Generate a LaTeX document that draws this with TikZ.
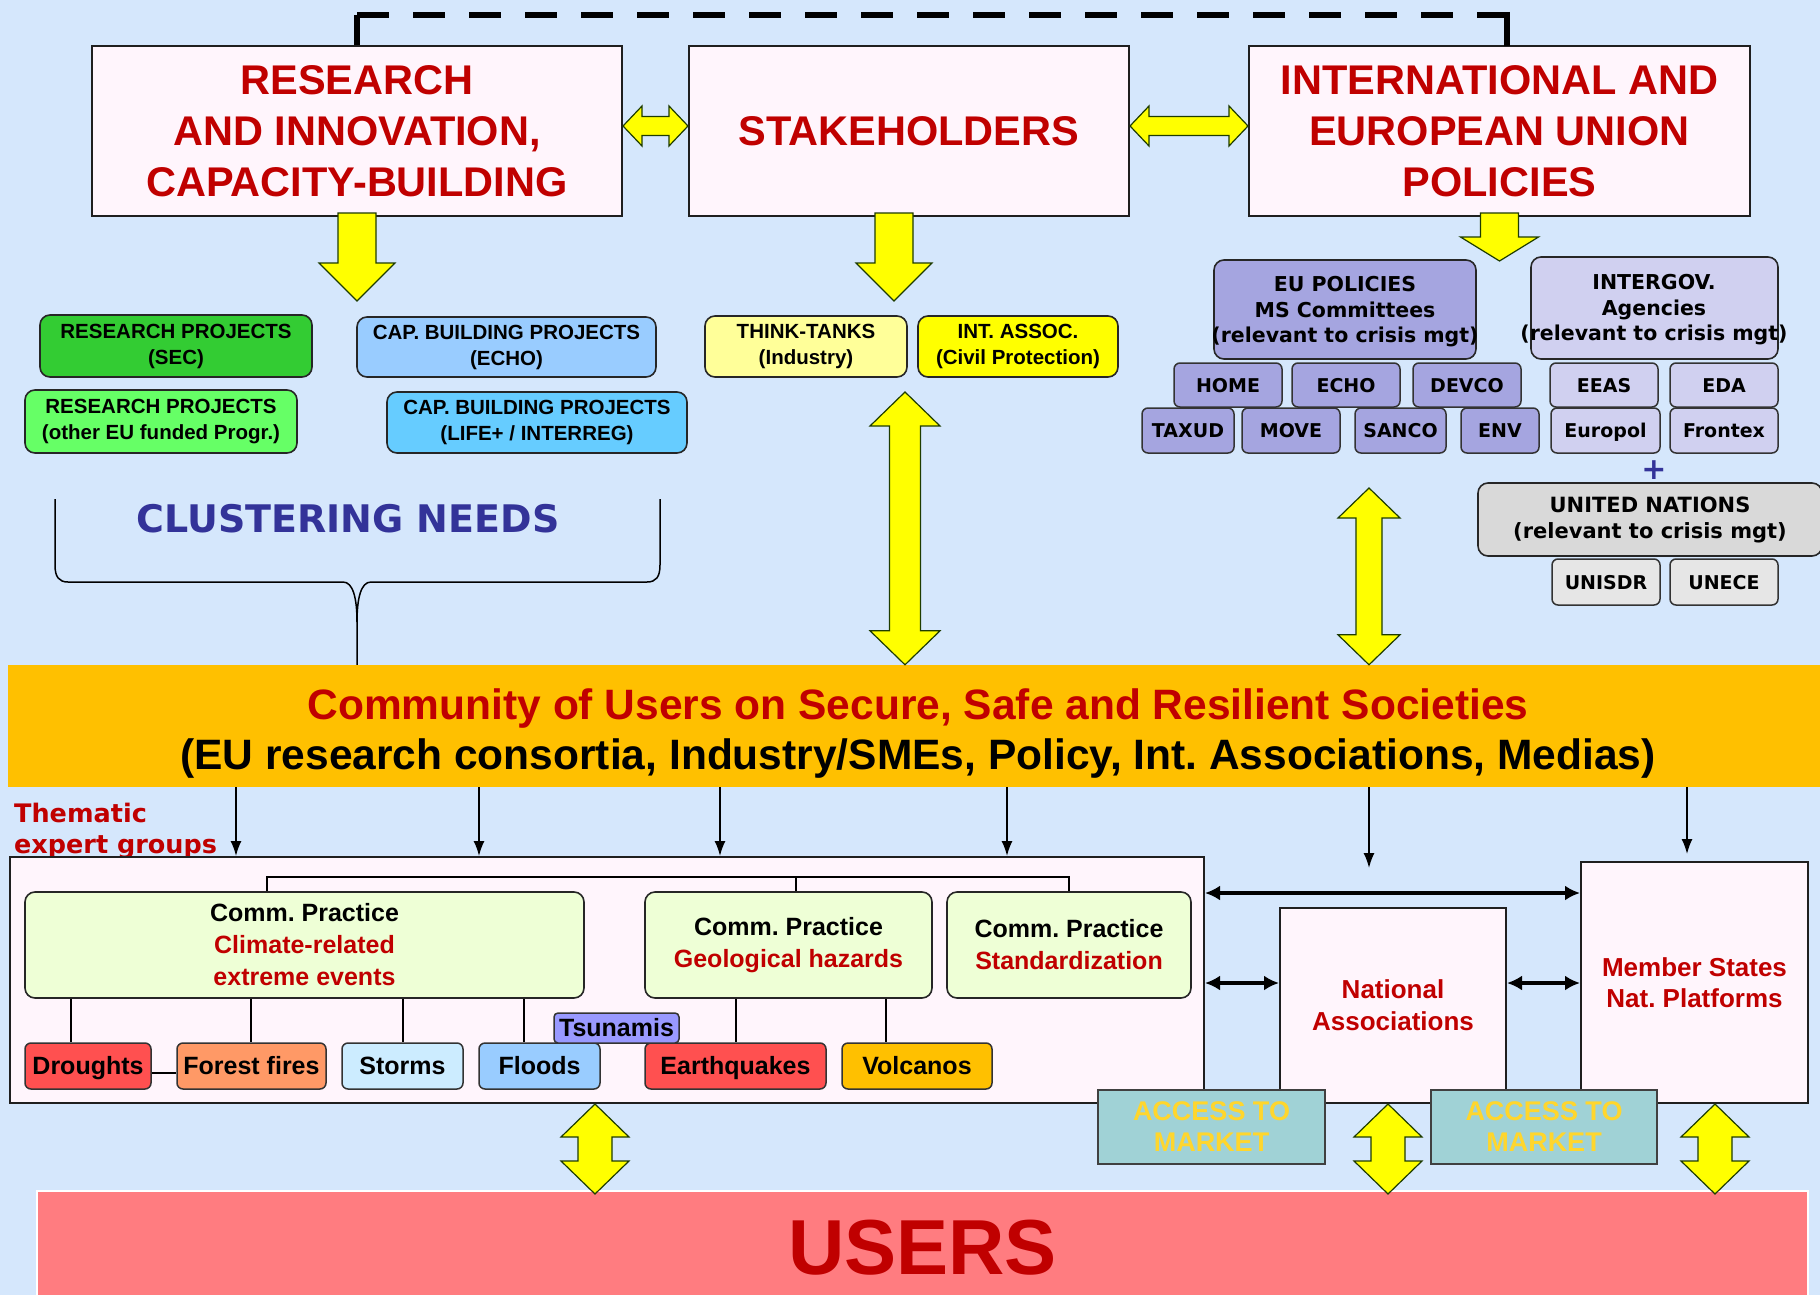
\documentclass[tikz,border=0pt]{standalone}
\usepackage{fontspec}
\setmainfont{Liberation Sans}
\newfontfamily\verd{DejaVu Sans}
\usetikzlibrary{arrows.meta,calc}
\frenchspacing
\definecolor{bg}{RGB}{213,231,252}
\definecolor{pinkw}{RGB}{255,245,252}
\definecolor{dred}{RGB}{192,0,0}
\definecolor{agreen}{RGB}{30,60,0}
\definecolor{gsec}{RGB}{51,204,51}
\definecolor{gother}{RGB}{102,255,102}
\definecolor{becho}{RGB}{153,204,255}
\definecolor{blife}{RGB}{102,204,255}
\definecolor{ythink}{RGB}{255,255,153}
\definecolor{yassoc}{RGB}{255,255,0}
\definecolor{lav}{RGB}{165,165,224}
\definecolor{lavl}{RGB}{208,208,240}
\definecolor{ungray}{RGB}{217,217,217}
\definecolor{ungrayl}{RGB}{230,230,230}
\definecolor{orangeb}{RGB}{255,192,0}
\definecolor{cpgreen}{RGB}{238,255,214}
\definecolor{redb}{RGB}{255,80,80}
\definecolor{forestc}{RGB}{255,153,102}
\definecolor{stormc}{RGB}{204,236,255}
\definecolor{floodc}{RGB}{153,204,255}
\definecolor{tsuc}{RGB}{153,153,255}
\definecolor{accessc}{RGB}{160,210,214}
\definecolor{goldc}{RGB}{255,214,45}
\definecolor{usersc}{RGB}{255,124,128}
\definecolor{dblue}{RGB}{51,51,153}
\newcommand{\fz}[2]{\fontsize{#1}{#2}\selectfont}
% yellow block arrows
\newcommand{\hdbl}[5]{\draw[yarrow] let \p1=#1, \p2=#2 in (\x1,\y1) -- (\x1+#5,\y1+#4) -- (\x1+#5,\y1+#3) -- (\x2-#5,\y1+#3) -- (\x2-#5,\y1+#4) -- (\x2,\y1) -- (\x2-#5,\y1-#4) -- (\x2-#5,\y1-#3) -- (\x1+#5,\y1-#3) -- (\x1+#5,\y1-#4) -- cycle;}
\newcommand{\vdbl}[5]{\draw[yarrow] let \p1=#1, \p2=#2 in (\x1,\y1) -- (\x1+#4,\y1-#5) -- (\x1+#3,\y1-#5) -- (\x1+#3,\y2+#5) -- (\x1+#4,\y2+#5) -- (\x1,\y2) -- (\x1-#4,\y2+#5) -- (\x1-#3,\y2+#5) -- (\x1-#3,\y1-#5) -- (\x1-#4,\y1-#5) -- cycle;}
\newcommand{\vdown}[5]{\draw[yarrow] let \p1=#1, \p2=#2 in (\x1-#3,\y1) -- (\x1+#3,\y1) -- (\x1+#3,\y2+#5) -- (\x1+#4,\y2+#5) -- (\x1,\y2) -- (\x1-#4,\y2+#5) -- (\x1-#3,\y2+#5) -- cycle;}
\begin{document}
\begin{tikzpicture}[x=1pt,y=-1pt,
  bigbox/.style={draw=black!88, line width=2pt, fill=pinkw, inner sep=0pt, align=center},
  rbox/.style={draw=black!85, line width=1.6pt, rounded corners=10pt, inner sep=0pt, align=center},
  tagbox/.style={draw=black!80, line width=1.5pt, rounded corners=6pt, inner sep=0pt, align=center},
  yarrow/.style={draw=agreen, line width=1.2pt, fill=yassoc},
  conn/.style={draw=black, line width=1.6pt},
  sarrow/.style={draw=black, line width=1.6pt, -{Latex[length=15pt,width=11pt]}},
  harrow/.style={draw=black, line width=3.5pt, {Latex[length=15pt,width=15pt]}-{Latex[length=15pt,width=15pt]}},
  topfont/.style={font=\fz{41.5}{51}\bfseries, text=dred},
  projfont/.style={font=\fz{20.5}{26}\bfseries, text=black},
  vfont/.style={font=\verd\fz{20.5}{25.5}\bfseries, text=black},
  tagfont/.style={font=\verd\fz{19}{23}\bfseries, text=black, text height=14pt, text depth=0pt},
  cpfont/.style={font=\fz{25}{32}\bfseries, text=black},
  hzfont/.style={font=\fz{25}{30}\bfseries, text=black, text height=19pt, text depth=3pt}
]
\useasboundingbox (0,0) rectangle (1820,1295);
\fill[bg] (0,0) rectangle (1820,1295);

% ---------- top boxes ----------
\node[bigbox, minimum width=530, minimum height=170, topfont] (research) at (357,131) {RESEARCH\\AND INNOVATION,\\CAPACITY-BUILDING};
\node[bigbox, minimum width=440, minimum height=170, topfont] (stake) at (909,131) {STAKEHOLDERS};
\node[bigbox, minimum width=501, minimum height=170, topfont] (intl) at (1499.5,131) {INTERNATIONAL AND\\EUROPEAN UNION\\POLICIES};

% dashed link
\draw[line width=6pt] (research.north -| 357,0) -- (357,15);
\draw[line width=6pt, dash pattern=on 32pt off 24pt] (357,15) -- (1507,15);
\draw[line width=6pt] (1507,12) -- (1507,46);

% ---------- project boxes ----------
\node[rbox, fill=gsec, minimum width=272, minimum height=62, projfont] (rpsec) at (176,346) {RESEARCH PROJECTS\\(SEC)};
\node[rbox, fill=becho, minimum width=299, minimum height=60, projfont] (cbecho) at (506.5,347) {CAP. BUILDING PROJECTS\\(ECHO)};
\node[rbox, fill=gother, minimum width=272, minimum height=63, projfont] (rpother) at (161,421.5) {RESEARCH PROJECTS\\(other EU funded Progr.)};
\node[rbox, fill=blife, minimum width=300, minimum height=61, projfont] (cblife) at (537,422.5) {CAP. BUILDING PROJECTS\\(LIFE+ / INTERREG)};

\node[rbox, fill=ythink, minimum width=202, minimum height=61, projfont] (think) at (806,346.5) {THINK-TANKS\\(Industry)};
\node[rbox, fill=yassoc, minimum width=200, minimum height=61, projfont] (intassoc) at (1018,346.5) {INT. ASSOC.\\(Civil Protection)};

% clustering needs
\node[anchor=base, font=\verd\fz{38}{44}\bfseries, text=dblue] (clust) at (348,532) {CLUSTERING NEEDS};
\draw[line width=1.5pt] (55,499) -- (55,565) .. controls (55,577) and (59,582) .. (68,582) -- (343,582) .. controls (353,582) and (357,598) .. (357,622) -- (357,665);
\draw[line width=1.5pt] (660,499) -- (660,565) .. controls (660,577) and (656,582) .. (647,582) -- (371,582) .. controls (361,582) and (357,598) .. (357,622);

% ---------- policies ----------
\node[rbox, fill=lav, minimum width=262, minimum height=99] (eupol) at (1345,309.5) {};
\node[vfont, align=center] (eupolt) at (1345,312) {EU POLICIES\\MS Committees\\(relevant to crisis mgt)};
\node[rbox, fill=lavl, minimum width=247, minimum height=102] (intergov) at (1654.5,308) {};
\node[vfont, align=center] (intergovt) at (1654,310) {INTERGOV.\\Agencies\\(relevant to crisis mgt)};

\node[tagbox, fill=lav, minimum width=108, minimum height=44, tagfont] (home) at (1228,385) {HOME};
\node[tagbox, fill=lav, minimum width=108, minimum height=44, tagfont] (echo2) at (1346,385) {ECHO};
\node[tagbox, fill=lav, minimum width=108, minimum height=44, tagfont] (devco) at (1467,385) {DEVCO};
\node[tagbox, fill=lav, minimum width=92, minimum height=45, tagfont] (taxud) at (1188,430.5) {TAXUD};
\node[tagbox, fill=lav, minimum width=98, minimum height=45, tagfont] (move) at (1291,430.5) {MOVE};
\node[tagbox, fill=lav, minimum width=91, minimum height=45, tagfont] (sanco) at (1400.5,430.5) {SANCO};
\node[tagbox, fill=lav, minimum width=78, minimum height=45, tagfont] (env) at (1500,430.5) {ENV};
\node[tagbox, fill=lavl, minimum width=108, minimum height=44, tagfont] (eeas) at (1604,385) {EEAS};
\node[tagbox, fill=lavl, minimum width=108, minimum height=44, tagfont] (eda) at (1724,385) {EDA};
\node[tagbox, fill=lavl, minimum width=109, minimum height=45, tagfont] (europol) at (1605.5,430.5) {Europol};
\node[tagbox, fill=lavl, minimum width=108, minimum height=45, tagfont] (frontex) at (1724,430.5) {Frontex};
\node[font=\verd\fz{30}{30}\bfseries, text=dblue, inner sep=0pt] (plus) at (1654,470) {+};
\node[rbox, fill=ungray, minimum width=344, minimum height=73, font=\verd\fz{21}{26}\bfseries] (un) at (1650,519.5) {UNITED NATIONS\\(relevant to crisis mgt)};
\node[tagbox, fill=ungrayl, minimum width=108, minimum height=46, tagfont] (unisdr) at (1606,582) {UNISDR};
\node[tagbox, fill=ungrayl, minimum width=108, minimum height=46, tagfont] (unece) at (1724,582) {UNECE};

% ---------- community band ----------
\node[fill=orangeb, minimum width=1820, minimum height=122, inner sep=0pt] (band) at (918,726) {};
\node[align=center, font=\fz{42.5}{50}\bfseries, inner sep=0pt] (bandtext) at (918,734) {\textcolor{dred}{Community of Users on Secure, Safe and Resilient Societies}\\(EU research consortia, Industry/SMEs, Policy, Int. Associations, Medias)};

% ---------- thematic area ----------
\node[anchor=base west, align=left, font=\verd\fz{25.5}{31}\bfseries, text=dred, inner sep=0pt] (thematic-label) at (14,853) {Thematic\\expert groups};
\node[bigbox, minimum width=1194, minimum height=246] (thematic) at (607,980) {};
\node[bigbox, minimum width=226, minimum height=195, font=\fz{26}{32}\bfseries, text=dred] (natassoc) at (1393,1005.5) {National\\Associations};
\node[bigbox, minimum width=227, minimum height=241, font=\fz{26}{31}\bfseries, text=dred] (ms) at (1694.5,982.5) {Member States\\Nat. Platforms};

\node[rbox, fill=cpgreen, minimum width=559, minimum height=106, cpfont] (climate) at (304.5,945) {Comm. Practice\\\textcolor{dred}{Climate-related}\\\textcolor{dred}{extreme events}};
\node[rbox, fill=cpgreen, minimum width=287, minimum height=106, cpfont] (geo) at (788.5,945) {Comm. Practice\\\textcolor{dred}{Geological hazards}};
\node[rbox, fill=cpgreen, minimum width=244, minimum height=106, cpfont] (standard) at (1069,945) {Comm. Practice\\\textcolor{dred}{Standardization}};

\node[tagbox, fill=redb, minimum width=126, minimum height=46, hzfont] (droughts) at (88,1066) {Droughts};
\node[tagbox, fill=forestc, minimum width=149, minimum height=46, hzfont] (forest) at (251.5,1066) {Forest fires};
\node[tagbox, fill=stormc, minimum width=121, minimum height=46, hzfont] (storms) at (402.5,1066) {Storms};
\node[tagbox, fill=floodc, minimum width=121, minimum height=46, hzfont] (floods) at (539.5,1066) {Floods};
\node[tagbox, fill=redb, minimum width=181, minimum height=46, hzfont] (earth) at (735.5,1066) {Earthquakes};
\node[tagbox, fill=orangeb, minimum width=150, minimum height=46, hzfont] (volcanos) at (917,1066) {Volcanos};
\node[tagbox, rounded corners=4pt, fill=tsuc, minimum width=125, minimum height=30, font=\fz{25}{30}\bfseries, text height=18pt, text depth=1pt] (tsunamis) at (616.5,1028) {Tsunamis};

% bracket above communities of practice
\coordinate (b1) at (267,877);
\coordinate (b2) at (796,877);
\coordinate (b3) at (1069,877);
\draw[conn, line width=2pt] (b1 |- climate.north) -- (b1) -- (b3) -- (b3 |- standard.north);
\draw[conn, line width=2pt] (b2) -- (b2 |- geo.north);

% links to hazards
\coordinate (c1) at (71,0);
\coordinate (c2) at (251,0);
\coordinate (c3) at (403,0);
\coordinate (c4) at (524,0);
\coordinate (c5) at (736,0);
\coordinate (c6) at (886,0);
\draw[conn] (c1 |- climate.south) -- (c1 |- droughts.north);
\draw[conn] (c2 |- climate.south) -- (c2 |- forest.north);
\draw[conn] (c3 |- climate.south) -- (c3 |- storms.north);
\draw[conn] (c4 |- climate.south) -- (c4 |- floods.north);
\draw[conn] (c5 |- geo.south) -- (c5 |- earth.north);
\draw[conn] (c6 |- geo.south) -- (c6 |- volcanos.north);
\coordinate (dy) at (0,1073);
\draw[conn] (droughts.east |- dy) -- (forest.west |- dy);

% arrows from band
\coordinate (t1) at (236,0);
\coordinate (t2) at (479,0);
\coordinate (t3) at (720,0);
\coordinate (t4) at (1007,0);
\coordinate (na) at (1369,868);
\coordinate (ma) at (1687,854);
\draw[sarrow] (t1 |- band.south) -- (t1 |- thematic.north);
\draw[sarrow] (t2 |- band.south) -- (t2 |- thematic.north);
\draw[sarrow] (t3 |- band.south) -- (t3 |- thematic.north);
\draw[sarrow] (t4 |- band.south) -- (t4 |- thematic.north);
\draw[sarrow] (na |- band.south) -- (na);
\draw[sarrow] (ma |- band.south) -- (ma);

% horizontal black double arrows
\coordinate (hy1) at (0,893);
\coordinate (hy2) at (0,983);
\draw[harrow] (thematic.east |- hy1) -- (ms.west |- hy1);
\draw[harrow] (thematic.east |- hy2) -- (natassoc.west |- hy2);
\draw[harrow] (natassoc.east |- hy2) -- (ms.west |- hy2);

% access to market
\node[draw=black!75, line width=2pt, fill=accessc, minimum width=227, minimum height=74, inner sep=0pt, align=center, font=\fz{27}{31}\bfseries, text=goldc] (access1) at (1211.5,1127) {ACCESS TO\\MARKET};
\node[draw=black!75, line width=2pt, fill=accessc, minimum width=226, minimum height=74, inner sep=0pt, align=center, font=\fz{27}{31}\bfseries, text=goldc] (access2) at (1544,1127) {ACCESS TO\\MARKET};

% users
\node[draw=white, line width=1.5pt, fill=usersc, minimum width=1771, minimum height=114, inner sep=0pt, font=\fz{78}{80}\bfseries, text=dred] (users) at (922.5,1248) {USERS};

% ---------- yellow block arrows ----------
\hdbl{([yshift=5pt]research.east)}{([yshift=5pt]stake.west)}{9.5pt}{20pt}{19pt}
\hdbl{([yshift=5pt]stake.east)}{([yshift=5pt]intl.west)}{9.5pt}{20pt}{19pt}
\coordinate (rtip) at (357,301);
\coordinate (stip) at (894,301);
\coordinate (itip) at (1499,261);
\vdown{([yshift=4pt]research.south)}{(rtip)}{19pt}{38pt}{38pt}
\vdown{([xshift=-15pt,yshift=4pt]stake.south)}{(stip)}{19pt}{38pt}{38pt}
\vdown{([yshift=4pt]intl.south)}{(itip)}{19pt}{39pt}{24pt}
\coordinate (v1) at (905,392);
\coordinate (v2) at (1369,488);
\vdbl{(v1)}{(v1 |- band.north)}{15.5pt}{35pt}{34pt}
\vdbl{(v2)}{(v2 |- band.north)}{13pt}{31pt}{30pt}
\coordinate (u1) at (595,1104);
\coordinate (u2) at (1388,1104);
\coordinate (u3) at (1715,1104);
\coordinate (ub) at (0,1194);
\vdbl{(u1)}{(u1 |- ub)}{17pt}{34pt}{33pt}
\vdbl{(u2)}{(u2 |- ub)}{17pt}{34pt}{33pt}
\vdbl{(u3)}{(u3 |- ub)}{17pt}{34pt}{33pt}
\end{tikzpicture}
\end{document}
